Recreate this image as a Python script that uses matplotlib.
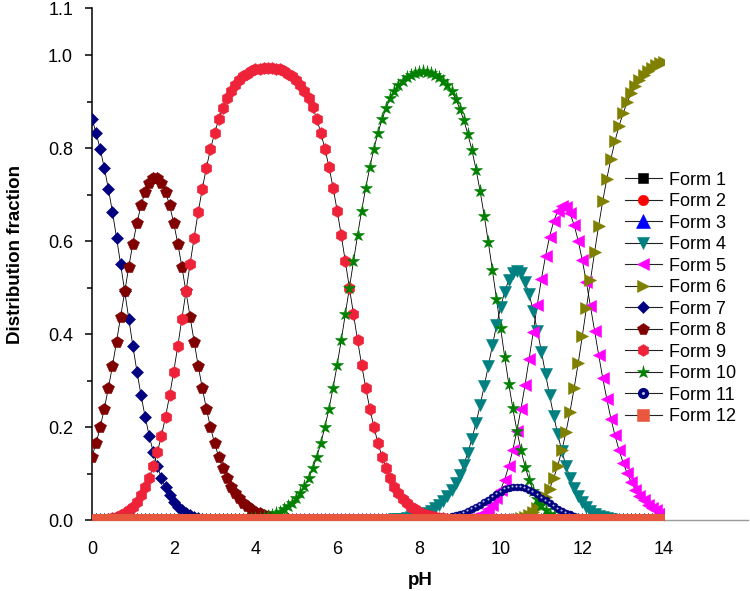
import numpy as np
import matplotlib
matplotlib.use("Agg")
import matplotlib.pyplot as plt
from matplotlib.lines import Line2D
from matplotlib.legend_handler import HandlerTuple
from matplotlib.path import Path

# pH grid: 0.0 .. 14.0 in steps of 0.1 (141 points)
pH = np.round(np.arange(0, 14.001, 0.1), 1)
N = len(pH)

def place(start, vals):
    """Put read-off values (fraction x1000) at their pH index; the rest is 0."""
    a = np.zeros(N)
    a[start:start + len(vals)] = np.array(vals, dtype=float) / 1000.0
    return a

# distribution fractions (x1000), with the starting pH index
form7_vals = [863,833,798,758,713,663,608,551,492,433,375,320,269,223,182,147,117,91,71,54,
              40,30,22,16,11,8,5,4,2,2,1,1]
form8_vals = [137,166,200,240,284,332,384,438,492,545,595,639,677,706,726,736,736,726,706,677,
              639,595,545,492,438,384,332,284,240,200,166,137,112,91,73,59,48,38,31,24,
              19,16,12,10,8,6,5,4,3,2,2,1,1,1,1,1]
form9_vals = [1,1,2,2,4,5,8,11,16,22,30,40,54,71,91,117,147,182,223,269,
              320,375,433,492,551,608,663,713,758,798,832,862,887,907,923,936,946,954,960,966,
              969,971,973,973,973,971,969,966,960,954,946,936,923,907,888,863,833,799,760,715,
              666,613,557,500,443,387,334,285,240,201,166,137,112,91,73,59,47,38,30,24,
              19,15,12,10,8,6,5,4,3,2,2,1,1,1,1]
form10_vals = [1,1,1,1,1,2,2,3,4,5,6,8,10,12,16,19,24,31,38,48,
               59,74,91,112,137,166,201,240,285,334,387,443,500,557,613,666,715,759,799,833,
               862,887,907,923,935,945,953,958,962,964,965,964,962,958,953,945,935,922,906,885,
               860,830,795,754,707,655,598,538,476,413,352,294,241,193,151,116,87,64,46,33,
               23,15,10,7,4,3,2,1,1]
form4_vals = [1,1,1,1,2,2,3,3,4,5,7,9,11,14,17,21,27,33,42,52,
              65,80,98,120,146,176,210,248,289,332,376,419,458,491,517,532,537,531,513,486,
              450,408,363,315,269,225,185,149,118,92,70,53,39,28,20,14,10,7,5,3,2,1,1,1]
form11_vals = [1,1,1,1,1,2,2,3,4,5,6,7,9,11,13,16,20,24,29,34,
               39,45,51,57,62,67,70,73,73,72,70,66,61,56,49,43,37,31,25,20,
               16,13,10,7,5,4,3,2,1,1,1]
form5_vals = [1,1,1,2,3,5,8,11,16,24,34,48,66,88,117,152,193,240,292,348,
              406,464,519,568,610,643,665,675,673,660,635,601,559,512,460,408,356,306,261,219,
              183,151,124,101,82,66,53,43,34,27,22,17,14]
form6_vals = [1,1,2,3,5,8,12,18,26,37,51,68,91,118,151,190,234,284,338,396,
              456,516,576,633,686,734,777,815,848,875,899,918,934,947,957,966,973,978,983,986]

form1 = np.zeros(N)
form2 = np.zeros(N)
form3 = np.zeros(N)
form4 = place(68, form4_vals)
form5 = place(88, form5_vals)
form6 = place(101, form6_vals)
form7 = place(0, form7_vals)
form8 = place(0, form8_vals)
form9 = place(0, form9_vals)
form10 = place(31, form10_vals)
form11 = place(76, form11_vals)
form12 = np.zeros(N)

labels = ['Form 1', 'Form 2', 'Form 3', 'Form 4', 'Form 5', 'Form 6',
          'Form 7', 'Form 8', 'Form 9', 'Form 10', 'Form 11', 'Form 12']
series = [form1, form2, form3, form4, form5, form6,
          form7, form8, form9, form10, form11, form12]
x_ticks = [0, 2, 4, 6, 8, 10, 12, 14]
y_ticks = [0.0, 0.2, 0.4, 0.6, 0.8, 1.0, 1.1]
y_ticklabels = ['0.0', '0.2', '0.4', '0.6', '0.8', '1.0', '1.1']

markers = ['s', 'o', '^', 'v', '<', '>', 'D', 'p', 'h', '*', 'o', 's']
colors = ['#000000', '#FF0000', '#0000FF', '#008080', '#FF00FF', '#808000',
          '#000080', '#800000', '#EE2238', '#008000', '#000080', '#E8573E']
sizes = [7.5, 7.5, 10.0, 9.0, 9.0, 9.0, 5.8, 8.5, 8.5, 9.5, 5.0, 8.8]

# upper half of a square: what remains of a square marker sitting on the x axis
half_square = Path([(-1, 0), (1, 0), (1, 1), (-1, 1), (-1, 0)],
                   [Path.MOVETO, Path.LINETO, Path.LINETO, Path.LINETO, Path.CLOSEPOLY])

plt.rcParams['font.family'] = ['Liberation Sans', 'DejaVu Sans']

fig = plt.figure(figsize=(7.5, 5.91), dpi=100)
ax = fig.add_axes([0.12267, 0.11929, 0.76267, 0.86633])

handles = []
for i, (name, y, m, c, ms) in enumerate(zip(labels, series, markers, colors, sizes)):
    z = 3 + 0.02 * i
    ax.plot(pH, y, color='black', lw=0.6, zorder=2)
    pm = half_square if name == 'Form 12' else m
    ax.plot(pH, y, ls='none', marker=pm, ms=ms, mfc=c, mec=c, mew=0.4, zorder=z)
    h = Line2D([], [], color='#222222', lw=0.8, marker=m, ms=ms, mfc=c, mec=c, mew=0.4)
    if name == 'Form 11':
        # glossy "sphere" look: small light highlight on each navy ball
        ax.plot(pH - 0.02, y + 0.002, ls='none', marker='o', ms=1.5,
                mfc='#b4bedf', mec='none', zorder=z + 0.01)
        h = Line2D([], [], color='#222222', lw=0.8, marker='o', ms=7, mfc=c, mec=c)
        hl = Line2D([], [], ls='none', marker='o', ms=2.2, mfc='#b4bedf', mec='none')
        h = (h, hl)
    handles.append(h)

ax.set_xlim(0, 14)
ax.set_ylim(0, 1.1)
ax.set_xticks(x_ticks)
ax.set_yticks(y_ticks)
ax.set_yticklabels(y_ticklabels)
ax.set_yticks([0.1, 0.3, 0.5, 0.7, 0.9], minor=True)
for s in ['top', 'right']:
    ax.spines[s].set_visible(False)
ax.spines['left'].set_linewidth(1.1)
ax.spines['bottom'].set_color('#9a9a9a')
ax.spines['bottom'].set_linewidth(1.0)
ax.plot([14, 16.05], [0, 0], color='#9a9a9a', lw=1.0, clip_on=False, zorder=1)
ax.tick_params(axis='x', length=0, pad=14.5, labelsize=13)
ax.tick_params(axis='y', which='major', length=5, width=1.1, pad=8.6,
               labelsize=13, direction='out')
ax.tick_params(axis='y', which='minor', length=3.4, width=1.1, direction='out')

ax.set_xlabel('pH', fontsize=13.5, fontweight='bold')
ax.xaxis.set_label_coords(0.5734, -0.1006)
ax.set_ylabel('Distribution fraction', fontsize=13.5, fontweight='bold')
ax.yaxis.set_label_coords(-0.119, 0.52)

fig.legend(handles, labels, loc='upper left',
           bbox_to_anchor=(0.8333, 0.7098), frameon=False, fontsize=13,
           handlelength=2.05, handletextpad=0.38, labelspacing=0.25,
           borderpad=0, borderaxespad=0,
           handler_map={tuple: HandlerTuple(ndivide=1)})

fig.savefig('out.png')
